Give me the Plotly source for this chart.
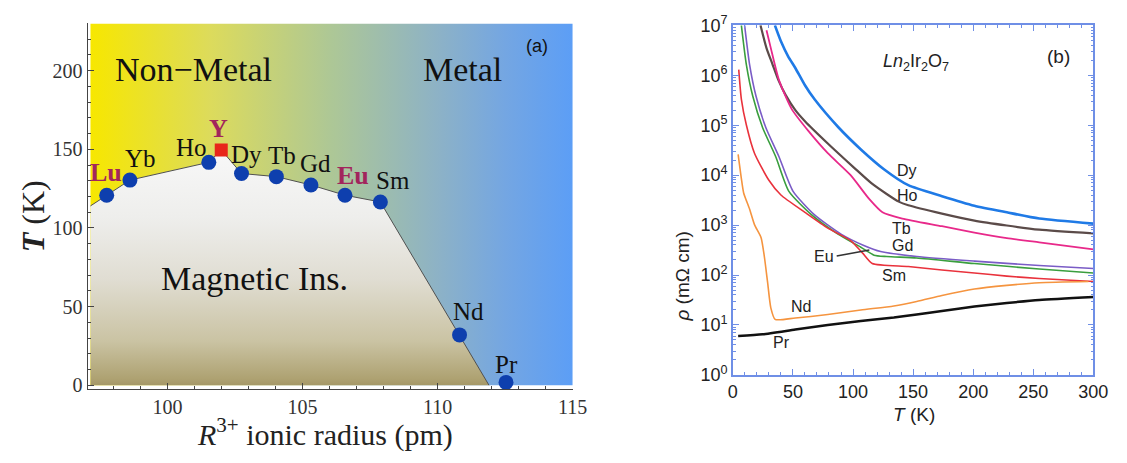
import plotly.graph_objects as go

# ---------------- Panel (a) data ----------------
elements = ["Lu", "Yb", "Ho", "Dy", "Tb", "Gd", "Eu", "Sm", "Nd", "Pr"]
radius = [97.75, 98.61, 101.53, 102.74, 104.03, 105.31, 106.57, 107.88, 110.81, 112.53]
t_mit = [120.8, 130.4, 141.7, 134.6, 132.6, 127.3, 120.8, 116.5, 32.0, 1.8]
y_radius = [101.99]
y_tmit = [149.6]
boundary_r = [97.15, 97.75, 98.61, 101.53, 101.99, 102.74, 104.03, 105.31, 106.57, 107.88, 110.81, 111.9]
boundary_t = [114, 120.8, 130.4, 141.7, 149.6, 134.6, 132.6, 127.3, 120.8, 116.5, 32.0, 0]
label_names = ["Lu", "Yb", "Ho", "Y", "Dy", "Tb", "Gd", "Eu", "Sm", "Nd", "Pr"]
label_r = [97.74, 98.99, 100.9, 101.9, 102.92, 104.24, 105.49, 106.88, 108.33, 111.14, 112.54]
label_t = [135, 144.2, 151.3, 163, 146.8, 146.2, 140.7, 133.4, 130, 46.7, 13.2]
label_bold = [True, False, False, True, False, False, False, True, False, False, False]

# ---------------- Panel (b) data ----------------
dy_T = [35, 40, 46, 52, 60, 68, 88, 107, 126, 146, 174, 201, 228, 255, 300]
dy_rho = [1e7, 4.8e6, 2.4e6, 1.4e6, 6.3e5, 3.3e5, 9e4, 3.2e4, 1.3e4, 6.3e3, 3.8e3, 2.45e3, 1.8e3, 1.35e3, 1.07e3]
ho_T = [23, 28, 33, 38, 44, 52, 60, 79, 101, 115, 128, 138, 146, 174, 201, 228, 255, 300]
ho_rho = [1e7, 3.5e6, 1.66e6, 7.9e5, 4e5, 2e5, 1.2e5, 4.3e4, 1.4e4, 7e3, 4.2e3, 2.95e3, 2.5e3, 1.7e3, 1.23e3, 980, 810, 680]
tb_T = [28, 31.6, 38.4, 49, 63, 79, 98, 113.6, 124.5, 141, 174, 201, 228, 255, 300]
tb_rho = [8e6, 3.5e6, 8e5, 2.1e5, 7.6e4, 2.75e4, 1e4, 3.3e3, 1.8e3, 1.35e3, 950, 710, 550, 450, 325]
gd_T = [9.8, 13.9, 19.3, 27.5, 38.4, 50, 68, 90, 109, 123, 153, 201, 255, 300]
gd_rho = [1e7, 1.66e6, 3.8e5, 8.9e4, 2.34e4, 4.8e3, 1.6e3, 660, 390, 295, 235, 190, 155, 135]
eu_T = [7.1, 11.2, 16.6, 24.8, 35.7, 46.5, 65.6, 87.5, 106.5, 117.5, 128, 153, 201, 255, 300]
eu_rho = [1e7, 1.66e6, 3.8e5, 8.9e4, 2.34e4, 4.8e3, 1.6e3, 660, 360, 250, 235, 220, 170, 132, 110]
sm_T = [4.9, 7.1, 11.2, 18, 30, 40, 60, 79, 98, 108, 116, 146, 174, 201, 228, 255, 300]
sm_rho = [1.3e6, 3.3e5, 1.02e5, 2.75e4, 7.9e3, 4e3, 1.8e3, 870, 490, 275, 170, 148, 126, 110, 95, 85, 74]
nd_T = [4.4, 7.1, 9, 13.9, 18, 23.5, 26.2, 28.9, 31.6, 35.2, 52, 79, 106.5, 134, 153, 174, 201, 228, 255, 296]
nd_rho = [2.6e4, 8.5e3, 4.4e3, 2.1e3, 1.02e3, 560, 235, 72, 22, 12.9, 13.8, 16.2, 20, 24, 29.5, 39, 52.5, 62, 70, 74]
pr_T = [4.4, 24.8, 52, 79, 106.5, 134, 153, 174, 201, 228, 255, 300]
pr_rho = [6.0, 6.5, 8.1, 10, 12, 14.1, 16.2, 19, 23.4, 27.5, 31.6, 36.3]

rho_tickvals = [1, 10, 100, 1e3, 1e4, 1e5, 1e6, 1e7]
rho_ticktext = ["10<sup>0</sup>", "10<sup>1</sup>", "10<sup>2</sup>", "10<sup>3</sup>",
                "10<sup>4</sup>", "10<sup>5</sup>", "10<sup>6</sup>", "10<sup>7</sup>"]

curves = [
    ("Dy", dy_T, dy_rho, "#1f7ae6", 2.6),
    ("Ho", ho_T, ho_rho, "#5b4b49", 2.2),
    ("Tb", tb_T, tb_rho, "#e8298a", 1.8),
    ("Gd", gd_T, gd_rho, "#7a5cc6", 1.6),
    ("Eu", eu_T, eu_rho, "#3a9e3e", 1.6),
    ("Sm", sm_T, sm_rho, "#e9323c", 1.6),
    ("Nd", nd_T, nd_rho, "#f5943f", 1.6),
    ("Pr", pr_T, pr_rho, "#111111", 2.5),
]
curve_labels = ["Dy", "Ho", "Tb", "Gd", "Eu", "Sm", "Nd", "Pr"]
curve_label_T = [144.7, 145.3, 140, 141, 75.5, 134, 56.4, 40.1]
curve_label_log = [4.09, 3.59, 2.94, 2.59, 2.38, 1.99, 1.37, 0.64]

SERIF = "Liberation Serif"
SANS = "Liberation Sans"

fig = go.Figure()

# background gradient (a)
fig.add_trace(go.Scatter(
    x=[97.15, 115.0, 115.0, 97.15], y=[0, 0, 230, 230],
    mode="lines", line=dict(width=0), fill="toself",
    fillgradient=dict(type="horizontal", colorscale=[
        [0, "#f7e700"], [0.25, "#dcdb5c"], [0.5, "#adc796"],
        [0.72, "#8db2c6"], [0.86, "#74a6e2"], [1, "#5c9ef6"]]),
    hoverinfo="skip", showlegend=False, xaxis="x", yaxis="y"))

# magnetic insulator region
fig.add_trace(go.Scatter(
    x=boundary_r + [boundary_r[0]], y=boundary_t + [0],
    mode="lines", line=dict(width=0), fill="toself",
    fillgradient=dict(type="vertical", start=0, stop=150, colorscale=[
        [0, "#8a7b48"], [0.1, "#aea272"], [0.25, "#cac3a3"],
        [0.5, "#e0ddd2"], [0.75, "#eeeeec"], [1, "#f7f7f7"]]),
    hoverinfo="skip", showlegend=False, xaxis="x", yaxis="y"))

# boundary line
fig.add_trace(go.Scatter(
    x=boundary_r, y=boundary_t, mode="lines",
    line=dict(color="#505050", width=1),
    hoverinfo="skip", showlegend=False, xaxis="x", yaxis="y"))

# points
fig.add_trace(go.Scatter(
    x=radius, y=t_mit, mode="markers",
    marker=dict(color="#0e3fae", size=15, line=dict(width=0)),
    showlegend=False, xaxis="x", yaxis="y"))
fig.add_trace(go.Scatter(
    x=y_radius, y=y_tmit, mode="markers",
    marker=dict(color="#e8261a", size=13, symbol="square", line=dict(width=0)),
    showlegend=False, xaxis="x", yaxis="y"))

annotations = []
for name, xr, yt, bold in zip(label_names, label_r, label_t, label_bold):
    annotations.append(dict(
        x=xr, y=yt, xref="x", yref="y", showarrow=False,
        xanchor="center", yanchor="middle",
        text=f"<b>{name}</b>" if bold else name,
        font=dict(family=SERIF, size=26 if bold else 25,
                  color="#a2255c" if bold else "#111111")))
annotations += [
    dict(x=100.97, y=200.4, xref="x", yref="y", showarrow=False, text="Non\u2212Metal",
         xanchor="center", yanchor="middle",
         font=dict(family=SERIF, size=34, color="#111")),
    dict(x=110.93, y=200.4, xref="x", yref="y", showarrow=False, text="Metal",
         xanchor="center", yanchor="middle",
         font=dict(family=SERIF, size=34, color="#111")),
    dict(x=103.22, y=68, xref="x", yref="y", showarrow=False, text="Magnetic Ins.",
         xanchor="center", yanchor="middle",
         font=dict(family=SERIF, size=34, color="#111")),
    dict(x=113.68, y=215.8, xref="x", yref="y", showarrow=False, text="(a)",
         xanchor="center", yanchor="middle",
         font=dict(family=SANS, size=18, color="#111")),
    dict(x=326 / 1127, y=(463 - 441) / 463, xref="paper", yref="paper", showarrow=False,
         xanchor="center", yanchor="middle",
         text="<i>R</i><sup>3+</sup> ionic radius (pm)",
         font=dict(family=SERIF, size=30, color="#222")),
    dict(x=28 / 1127, y=(463 - 215) / 463, xref="paper", yref="paper", showarrow=False,
         xanchor="center", yanchor="middle",
         text="<b><i>T</i></b> (K)", textangle=-90,
         font=dict(family=SERIF, size=32, color="#222")),
]

# ---------------- Panel (b) traces ----------------
for name, T, rho, color, w in curves:
    fig.add_trace(go.Scatter(
        x=T, y=rho, mode="lines", name=name,
        line=dict(color=color, width=w, shape="spline", smoothing=0.6),
        showlegend=False, xaxis="x2", yaxis="y2"))

# Eu pointer line
fig.add_trace(go.Scatter(
    x=[86.4, 113.6], y=[10 ** 2.38, 10 ** 2.50], mode="lines",
    line=dict(color="#333", width=1.5), showlegend=False, xaxis="x2", yaxis="y2"))

for name, xt, yl in zip(curve_labels, curve_label_T, curve_label_log):
    annotations.append(dict(
        x=xt, y=yl, xref="x2", yref="y2", showarrow=False, text=name,
        xanchor="center", yanchor="middle",
        font=dict(family=SANS, size=16, color="#222")))
annotations += [
    dict(x=152.8, y=6.25, xref="x2", yref="y2", showarrow=False,
         xanchor="center", yanchor="middle",
         text="<i>Ln</i><sub>2</sub>Ir<sub>2</sub>O<sub>7</sub>",
         font=dict(family=SANS, size=18, color="#222")),
    dict(x=271.4, y=6.38, xref="x2", yref="y2", showarrow=False, text="(b)",
         xanchor="center", yanchor="middle",
         font=dict(family=SANS, size=19, color="#222")),
    dict(x=925 / 1127, y=(463 - 423) / 463, xref="paper", yref="paper", showarrow=False,
         xanchor="center", yanchor="middle",
         text="<i>T</i> (K)", font=dict(family=SANS, size=19, color="#222")),
    dict(x=690 / 1127, y=(463 - 278) / 463, xref="paper", yref="paper", showarrow=False,
         xanchor="center", yanchor="middle",
         text="<i>\u03c1</i> (m\u03a9 cm)", textangle=-90,
         font=dict(family=SANS, size=19, color="#222")),
]

fig.update_layout(
    width=1127, height=463,
    margin=dict(l=0, r=0, t=0, b=0),
    paper_bgcolor="white", plot_bgcolor="white",
    showlegend=False, hovermode=False,
    annotations=annotations,
    xaxis=dict(domain=[84 / 1127, 578 / 1127], range=[97.04, 115.0],
               tickvals=[100, 105, 110, 115], ticks="inside", ticklen=6,
               tickcolor="#444", showline=True, linecolor="#444", linewidth=1.2,
               showgrid=False, zeroline=False,
               minor=dict(dtick=1, ticks="inside", ticklen=3, tickcolor="#444"),
               tickfont=dict(family=SERIF, size=20, color="#333"), anchor="y"),
    yaxis=dict(domain=[(463 - 396) / 463, (463 - 12) / 463], range=[-2.5, 230],
               tickvals=[0, 50, 100, 150, 200], ticks="inside", ticklen=6,
               tickcolor="#444", showline=True, linecolor="#444", linewidth=1.2,
               showgrid=False, zeroline=False,
               minor=dict(dtick=10, ticks="inside", ticklen=3, tickcolor="#444"),
               tickfont=dict(family=SERIF, size=20, color="#333"), anchor="x"),
    xaxis2=dict(domain=[741 / 1127, 1108 / 1127], range=[0, 300],
                tickvals=[0, 50, 100, 150, 200, 250, 300], ticks="inside", ticklen=6,
                tickcolor="#6f8fe6", showline=True, linecolor="#6f8fe6", linewidth=1.5,
                mirror="allticks", showgrid=False, zeroline=False,
                minor=dict(dtick=10, ticks="inside", ticklen=3, tickcolor="#6f8fe6"),
                tickfont=dict(family=SANS, size=18, color="#222"), anchor="y2"),
    yaxis2=dict(domain=[(463 - 381) / 463, (463 - 14) / 463], type="log", range=[0, 7],
                tickvals=rho_tickvals, ticktext=rho_ticktext, ticks="inside", ticklen=6,
                tickcolor="#6f8fe6", showline=True, linecolor="#6f8fe6", linewidth=1.5,
                mirror="allticks", showgrid=False, zeroline=False,
                minor=dict(ticks="inside", ticklen=3, tickcolor="#6f8fe6", dtick="D1"),
                tickfont=dict(family=SANS, size=18, color="#222"), anchor="x2"),
)

fig.write_html("out.html")
